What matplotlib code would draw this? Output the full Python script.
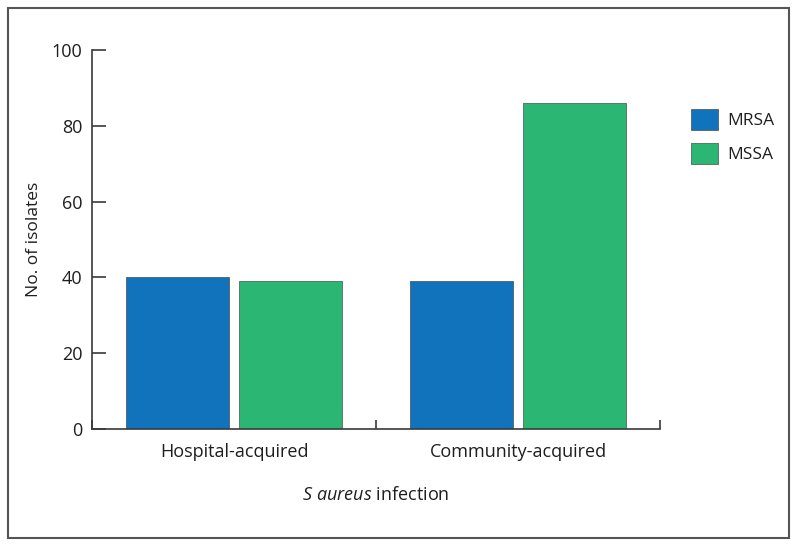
import numpy as np
import matplotlib
matplotlib.use("Agg")
import matplotlib.pyplot as plt
from matplotlib.patches import Rectangle

categories = ["Hospital-acquired", "Community-acquired"]
series = ["MRSA", "MSSA"]
mrsa = [40, 39]
mssa = [39, 86]
yticks = [0, 20, 40, 60, 80, 100]

plt.rcParams["font.family"] = ["Open Sans", "DejaVu Sans"]
plt.rcParams["mathtext.fontset"] = "custom"
plt.rcParams["mathtext.rm"] = "Open Sans"
plt.rcParams["mathtext.it"] = "Open Sans:italic"

blue = "#1173bc"
green = "#2cb673"
dark = "#3a3a3a"
txt = "#1e1e1e"

fig = plt.figure(figsize=(7.98, 5.47), dpi=100)
ax = fig.add_axes([92 / 798, 1 - 429 / 547, 568 / 798, 379 / 547])

x = np.arange(len(categories))
w = 0.363
ax.bar(x - 0.2, mrsa, w, color=blue, edgecolor="#5a6a78", linewidth=0.7, label=series[0])
ax.bar(x + 0.2, mssa, w, color=green, edgecolor="#5a7a68", linewidth=0.7, label=series[1])

ax.set_xlim(-0.5, 1.5)
ax.set_ylim(0, 100)
ax.set_yticks(yticks)
ax.set_xticks(x)
ax.set_xticklabels(categories)
ax.set_xticks([-0.5, 0.5, 1.5], minor=True)

ax.tick_params(axis="y", direction="in", length=10, width=1.2, color=dark,
               labelsize=13, labelcolor=txt, pad=7)
ax.tick_params(axis="x", which="major", length=0, labelsize=13, labelcolor=txt, pad=10)
ax.tick_params(axis="x", which="minor", direction="in", length=6.5, width=1.2, color=dark)

for s in ["top", "right"]:
    ax.spines[s].set_visible(False)
for s in ["left", "bottom"]:
    ax.spines[s].set_color(dark)
    ax.spines[s].set_linewidth(1.2)

ax.set_ylabel("No. of isolates", fontsize=12.5, color=txt, labelpad=7)
ax.set_xlabel(r"$\it{S\ aureus}$ infection", fontsize=13, color=txt, labelpad=18)

fig.legend(loc="upper left", bbox_to_anchor=(691 / 798, 1 - 109 / 547),
           frameon=False, fontsize=12.5, handlelength=1.55, handleheight=1.5,
           handletextpad=0.55, labelspacing=0.74, borderpad=0, borderaxespad=0,
           labelcolor=txt)

fig.add_artist(Rectangle((8 / 798, 1 - 538 / 547), 781 / 798, 530 / 547,
                         transform=fig.transFigure, fill=False,
                         edgecolor="#555555", linewidth=1.5))

fig.savefig("out.png", dpi=100)
